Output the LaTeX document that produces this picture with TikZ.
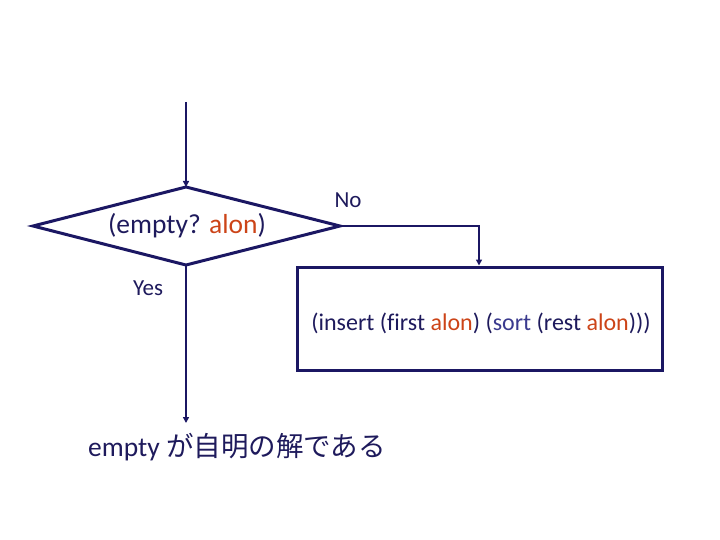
\documentclass[tikz,border=0pt]{standalone}
\usepackage{fontspec}
\setmainfont[Ligatures=NoCommon]{Carlito}
\newfontfamily\cjk{Noto Sans CJK JP}
\usetikzlibrary{arrows.meta}
\definecolor{navy}{HTML}{1B1763}
\definecolor{txt}{HTML}{1E1A5C}
\definecolor{org}{HTML}{CC4418}
\definecolor{blu}{HTML}{3A3A8E}
\begin{document}
\begin{tikzpicture}[x=1pt,y=-1pt,
  shape line/.style={draw=navy,line width=3pt,line join=miter},
  conn/.style={draw=navy,line width=2pt,-{Triangle[length=6pt,width=6pt]}},
  lbl/.style={text=txt,inner sep=0pt}]
\useasboundingbox (0,0) rectangle (720,540);
% diamond
\coordinate (dl) at (33,226);
\coordinate (dt) at (186,187);
\coordinate (dr) at (340,226);
\coordinate (db) at (186,265);
\draw[shape line] (dl) -- (dt) -- (dr) -- (db) -- cycle;
\node[lbl,font=\fontsize{27.5}{30}\selectfont] (cond) at (187,226) {(empty? \textcolor{org}{alon})};
% box
\node[shape line,minimum width=365pt,minimum height=103pt,inner sep=0pt] (box) at (479.5,318.5) {};
\node[lbl,font=\fontsize{24}{28}\selectfont] (expr) at (481,323) {(insert (first \textcolor{org}{alon}) (\textcolor{blu}{sort} (rest \textcolor{org}{alon})))};
% result
\node[lbl,anchor=west,font=\fontsize{27.5}{30}\selectfont] (res) at (88,447) {empty {\cjk\fontsize{27.5}{30}\selectfont が自明の解である}};
% labels
\node[lbl,font=\fontsize{23}{26}\selectfont] (no) at (348,200) {No};
\node[lbl,font=\fontsize{23}{26}\selectfont] (yes) at (148,288) {Yes};
% connectors
\coordinate (start) at (186,102);
\coordinate (end) at (186,423);
\coordinate (bend) at (479,226);
\draw[conn] (start) -- (dt);
\draw[conn] (db) -- (end);
\draw[conn] (dr) -- (bend) -- (box.north-|bend);
\end{tikzpicture}
\end{document}
